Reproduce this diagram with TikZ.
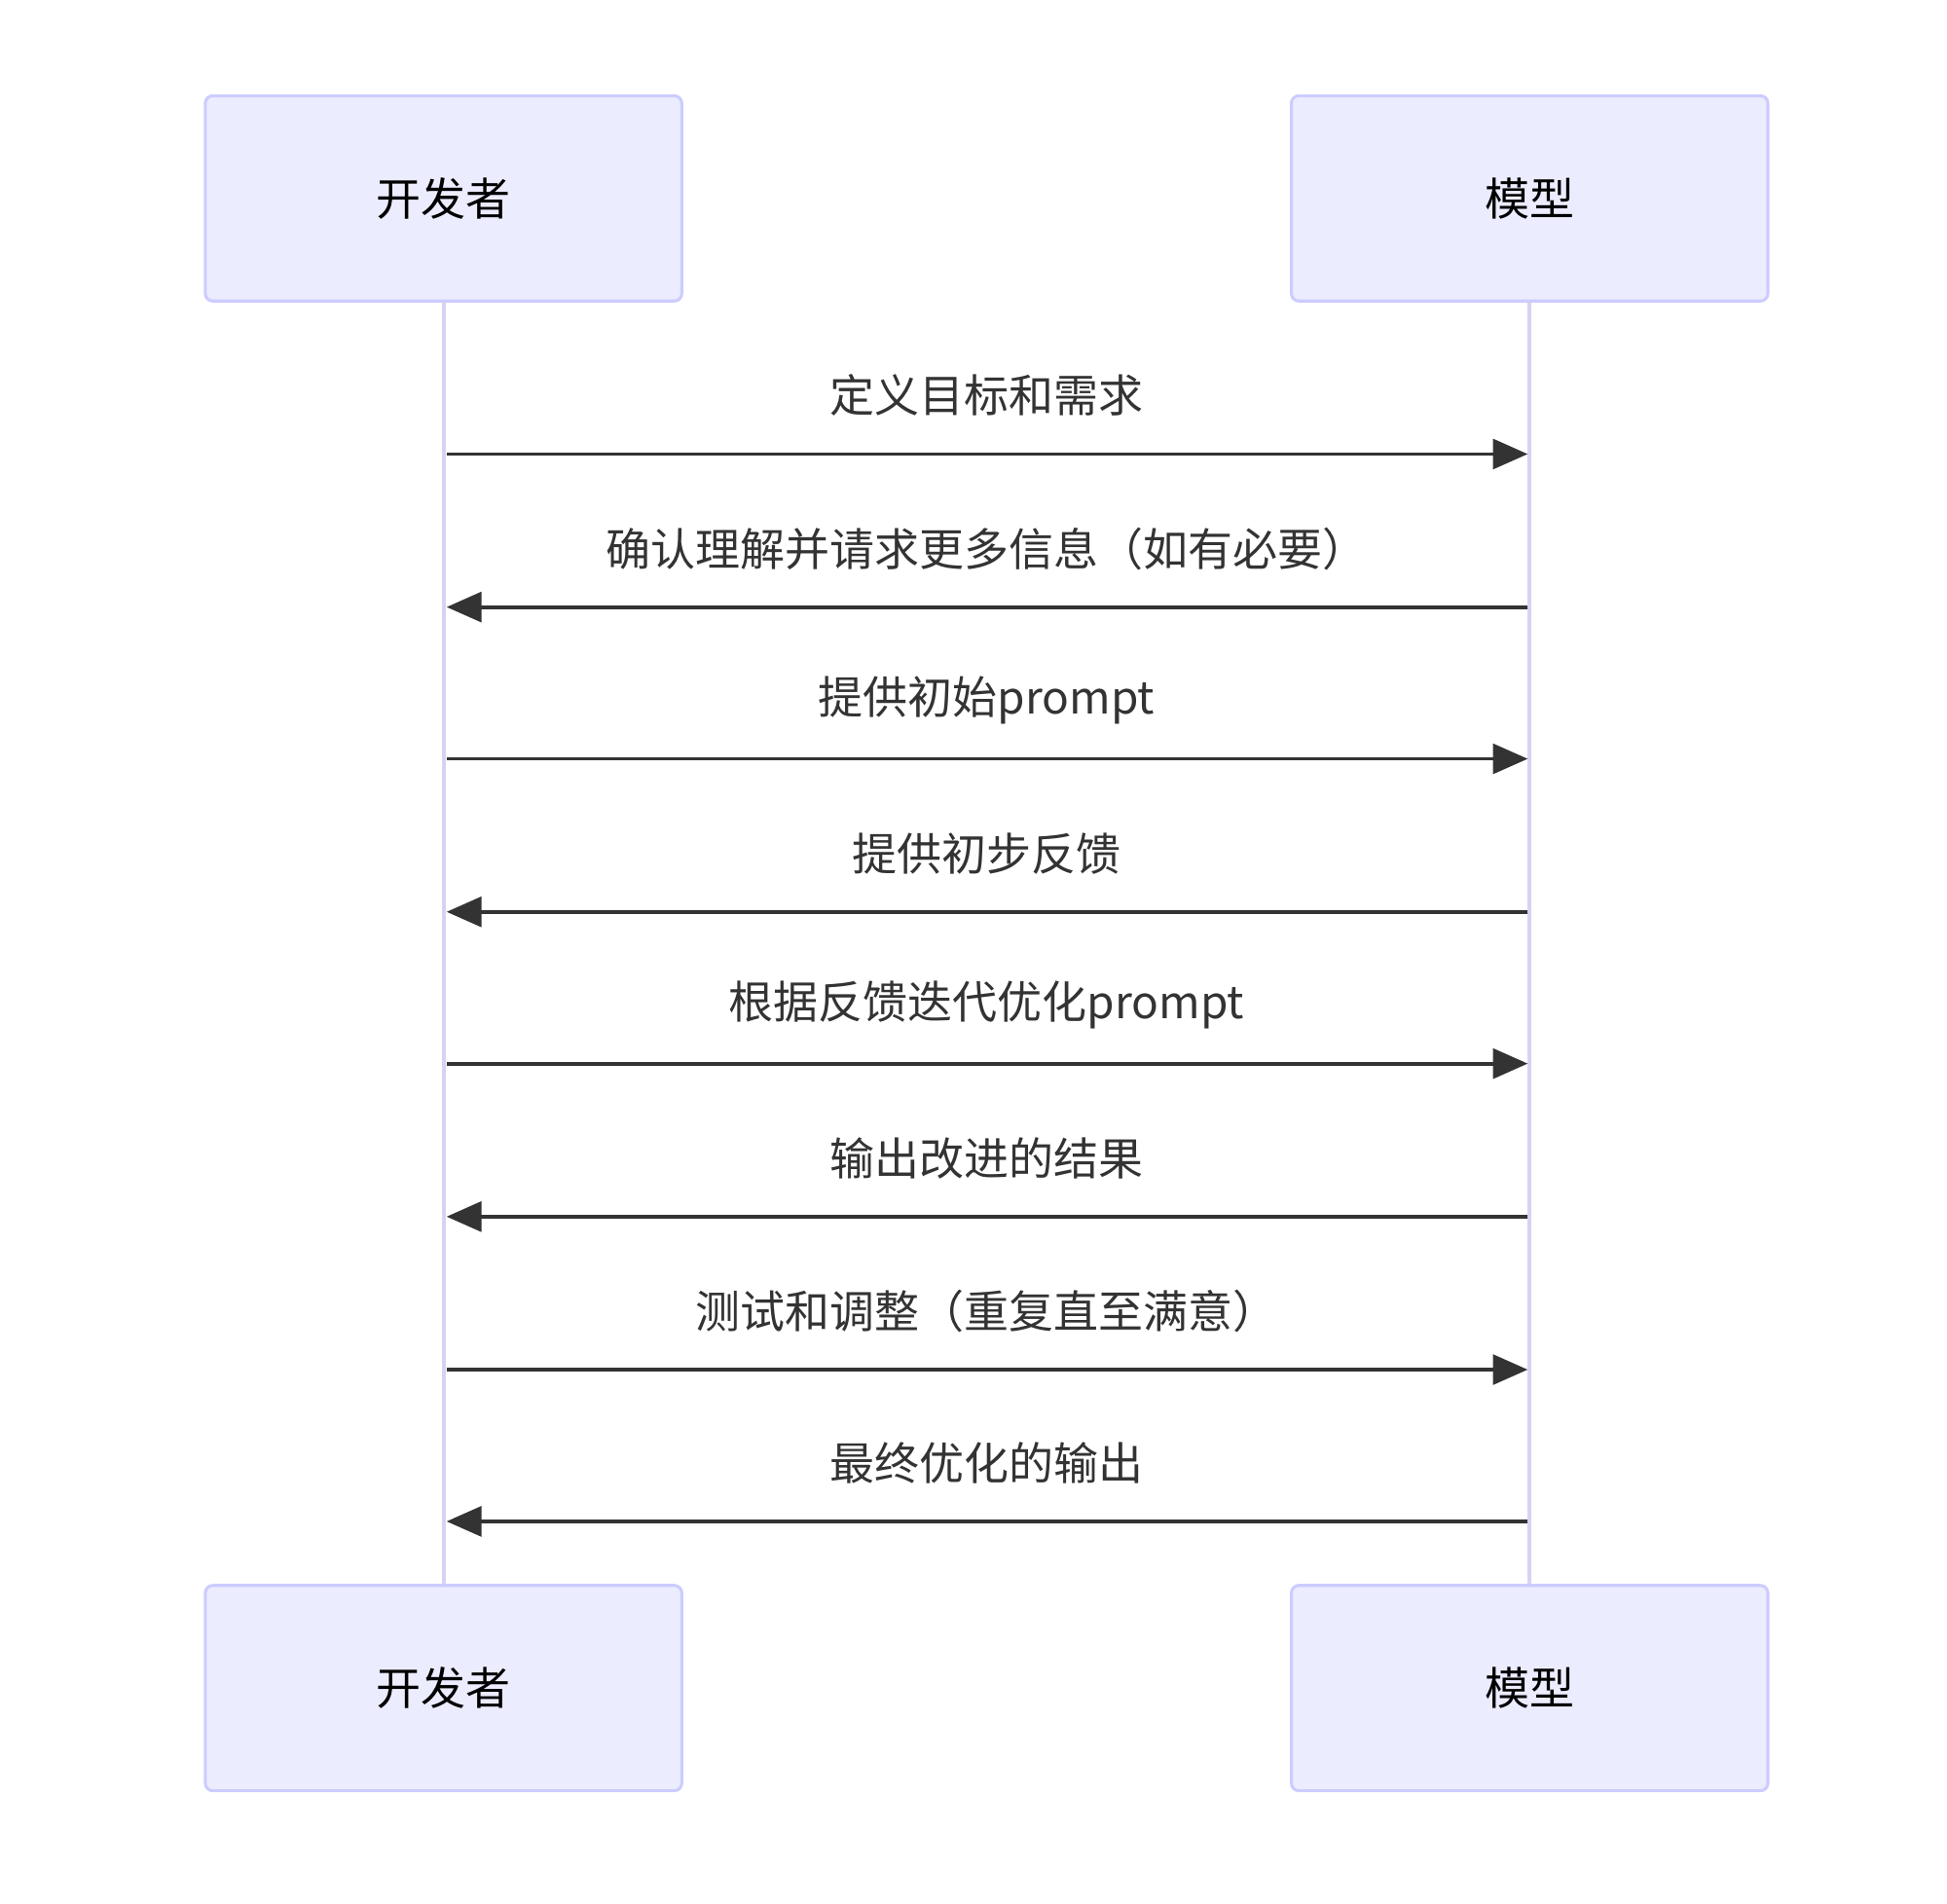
\documentclass[tikz,border=0pt]{standalone}
\usepackage{fontspec}
\setmainfont{Noto Sans CJK SC}
\usetikzlibrary{arrows.meta}
\definecolor{actfill}{HTML}{ECECFF}
\definecolor{actdraw}{HTML}{CCCCFF}
\definecolor{lifec}{HTML}{D8D2F2}
\definecolor{msgc}{HTML}{333333}
\begin{document}
\begin{tikzpicture}[x=0.5pt,y=-0.5pt,
  actor/.style={draw=actdraw,fill=actfill,line width=1.2pt,rounded corners=3pt,minimum width=191.5pt,minimum height=82.5pt,font=\fontsize{18}{20}\selectfont,text=black},
  life/.style={draw=lifec,line width=1.5pt},
  msg/.style={draw=msgc,line width=1.5pt,-{Triangle[length=14pt,width=12pt]}},
  lbl/.style={font=\fontsize{18}{20}\selectfont,text=msgc}]
\useasboundingbox (0,0) rectangle (1565,1530);
\node[actor] (a1) at (356.5,159.5) {开发者};
\node[actor] (b1) at (1229.5,159.5) {模型};
\node[actor] (a2) at (356.5,1357) {开发者};
\node[actor] (b2) at (1229.5,1357) {模型};
\draw[life] (a1.south) -- (a2.north);
\draw[life] (b1.south) -- (b2.north);
\foreach \y/\t/\d in {365/定义目标和需求/r,488/确认理解并请求更多信息（如有必要）/l,610/提供初始prompt/r,733/提供初步反馈/l,855/根据反馈迭代优化prompt/r,978/输出改进的结果/l,1101/测试和调整（重复直至满意）/r,1223/最终优化的输出/l}{
  \coordinate (L\y) at (359,\y);
  \coordinate (R\y) at (1228,\y);
  \if r\d \draw[msg] (L\y) -- (R\y); \else \draw[msg] (R\y) -- (L\y); \fi
  \node[lbl] (t\y) at (793,\y-47) {\t};
}
\end{tikzpicture}
\end{document}
